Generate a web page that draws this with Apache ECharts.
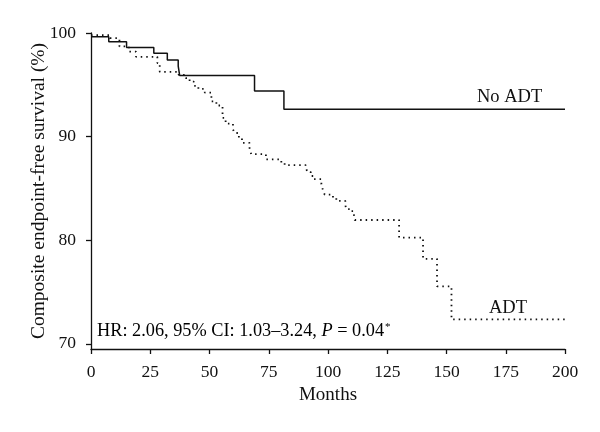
<!DOCTYPE html>
<html>
<head>
<meta charset="utf-8">
<script src="https://cdn.jsdelivr.net/npm/echarts@6/dist/echarts.min.js"></script>
<style>
html,body{margin:0;padding:0;background:#fff;}
#chart{width:600px;height:432px;}
</style>
</head>
<body>
<div id="chart"></div>
<script>
// Kaplan-Meier step data: [month, survival % after event]
var noAdtTimes  = [0, 7.5, 15, 26.5, 32.2, 36.8, 37.4, 69, 81.4, 200];
var noAdtValues = [99.65, 99.15, 98.6, 98.05, 97.4, 96.8, 95.9, 94.4, 92.65, 92.65];

var adtTimes  = [0, 8, 12, 16, 19, 28, 29, 37, 40, 41.6, 43.4, 45.3, 48, 50.8, 52.9, 55.5, 56.8, 59.9, 60.6, 62.4, 63.7, 66.9, 67.6, 73.8, 80.3, 81.7, 90.6, 91.3, 92.7, 94, 97.2, 97.9, 98.6, 102.1, 103.5, 107.3, 107.7, 109.2, 110.9, 111.3, 130, 140.1, 146, 152.1, 200];
var adtValues = [99.8, 99.5, 98.7, 98.2, 97.7, 97.1, 96.25, 95.95, 95.65, 95.3, 94.9, 94.6, 94.25, 93.4, 93.0, 91.8, 91.25, 90.7, 90.35, 89.9, 89.4, 88.9, 88.3, 87.8, 87.5, 87.25, 87.0, 86.6, 86.2, 85.9, 85.4, 84.8, 84.4, 84.1, 83.8, 83.4, 83.0, 82.8, 82.5, 81.95, 80.25, 78.2, 75.55, 72.35, 72.35];

var xTicks = [0, 25, 50, 75, 100, 125, 150, 175, 200];
var yTicks = [70, 80, 90, 100];

function pairs(t, v) { return t.map(function (x, i) { return [x, v[i]]; }); }

var FONT = '"Liberation Serif", "DejaVu Serif", serif';
var INK = '#111';
var chart = echarts.init(document.getElementById('chart'), null, {renderer: 'canvas'});
chart.setOption({
  backgroundColor: '#ffffff',
  animation: false,
  grid: {left: 91, right: 35, top: 33, bottom: 83, containLabel: false},
  xAxis: {
    type: 'value', min: 0, max: 200, interval: 25,
    name: 'Months', nameLocation: 'middle', nameGap: 37, nameMoveOverlap: false,
    nameTextStyle: {fontFamily: FONT, fontSize: 19, color: INK},
    axisLine: {show: true, onZero: false, lineStyle: {color: INK, width: 1.3}},
    axisTick: {show: true, length: 5, lineStyle: {color: INK, width: 1.3}},
    axisLabel: {margin: 14, fontFamily: FONT, fontSize: 17.5, color: INK},
    splitLine: {show: false}
  },
  yAxis: {
    type: 'value', min: 69.5, max: 100,
    name: 'Composite endpoint-free survival (%)', nameLocation: 'middle', nameGap: 42, nameMoveOverlap: false,
    nameTextStyle: {fontFamily: FONT, fontSize: 19.5, color: INK},
    axisLine: {show: true, onZero: false, lineStyle: {color: INK, width: 1.3}},
    axisTick: {show: true, length: 5, customValues: yTicks, lineStyle: {color: INK, width: 1.3}},
    axisLabel: {margin: 15, customValues: yTicks, fontFamily: FONT, fontSize: 17.5, color: INK},
    splitLine: {show: false}
  },
  series: [
    {
      name: 'No ADT', type: 'line', step: 'end', symbol: 'none',
      data: pairs(noAdtTimes, noAdtValues),
      lineStyle: {color: '#111', width: 1.5}
    },
    {
      name: 'ADT', type: 'line', step: 'end', symbol: 'none',
      data: pairs(adtTimes, adtValues),
      lineStyle: {color: '#111', width: 1.8, type: [1.5, 4]}
    }
  ],
  graphic: [
    {type: 'text', left: 477, top: 88, style: {text: 'No ADT', font: '18.5px ' + FONT, fill: INK}},
    {type: 'text', left: 489, top: 299, style: {text: 'ADT', font: '18.5px ' + FONT, fill: INK}},
    {type: 'text', left: 97, top: 322, style: {
      text: '{n|HR: 2.06, 95% CI: 1.03–3.24, }{i|P}{n| = 0.04}{s|*}',
      rich: {
        n: {fontFamily: FONT, fontSize: 18.3, color: INK},
        i: {fontFamily: FONT, fontSize: 18.3, fontStyle: 'italic', color: INK},
        s: {fontFamily: FONT, fontSize: 11, color: INK, verticalAlign: 'top', padding: [0, 0, 8, 1]}
      }
    }}
  ]
});
</script>
</body>
</html>
